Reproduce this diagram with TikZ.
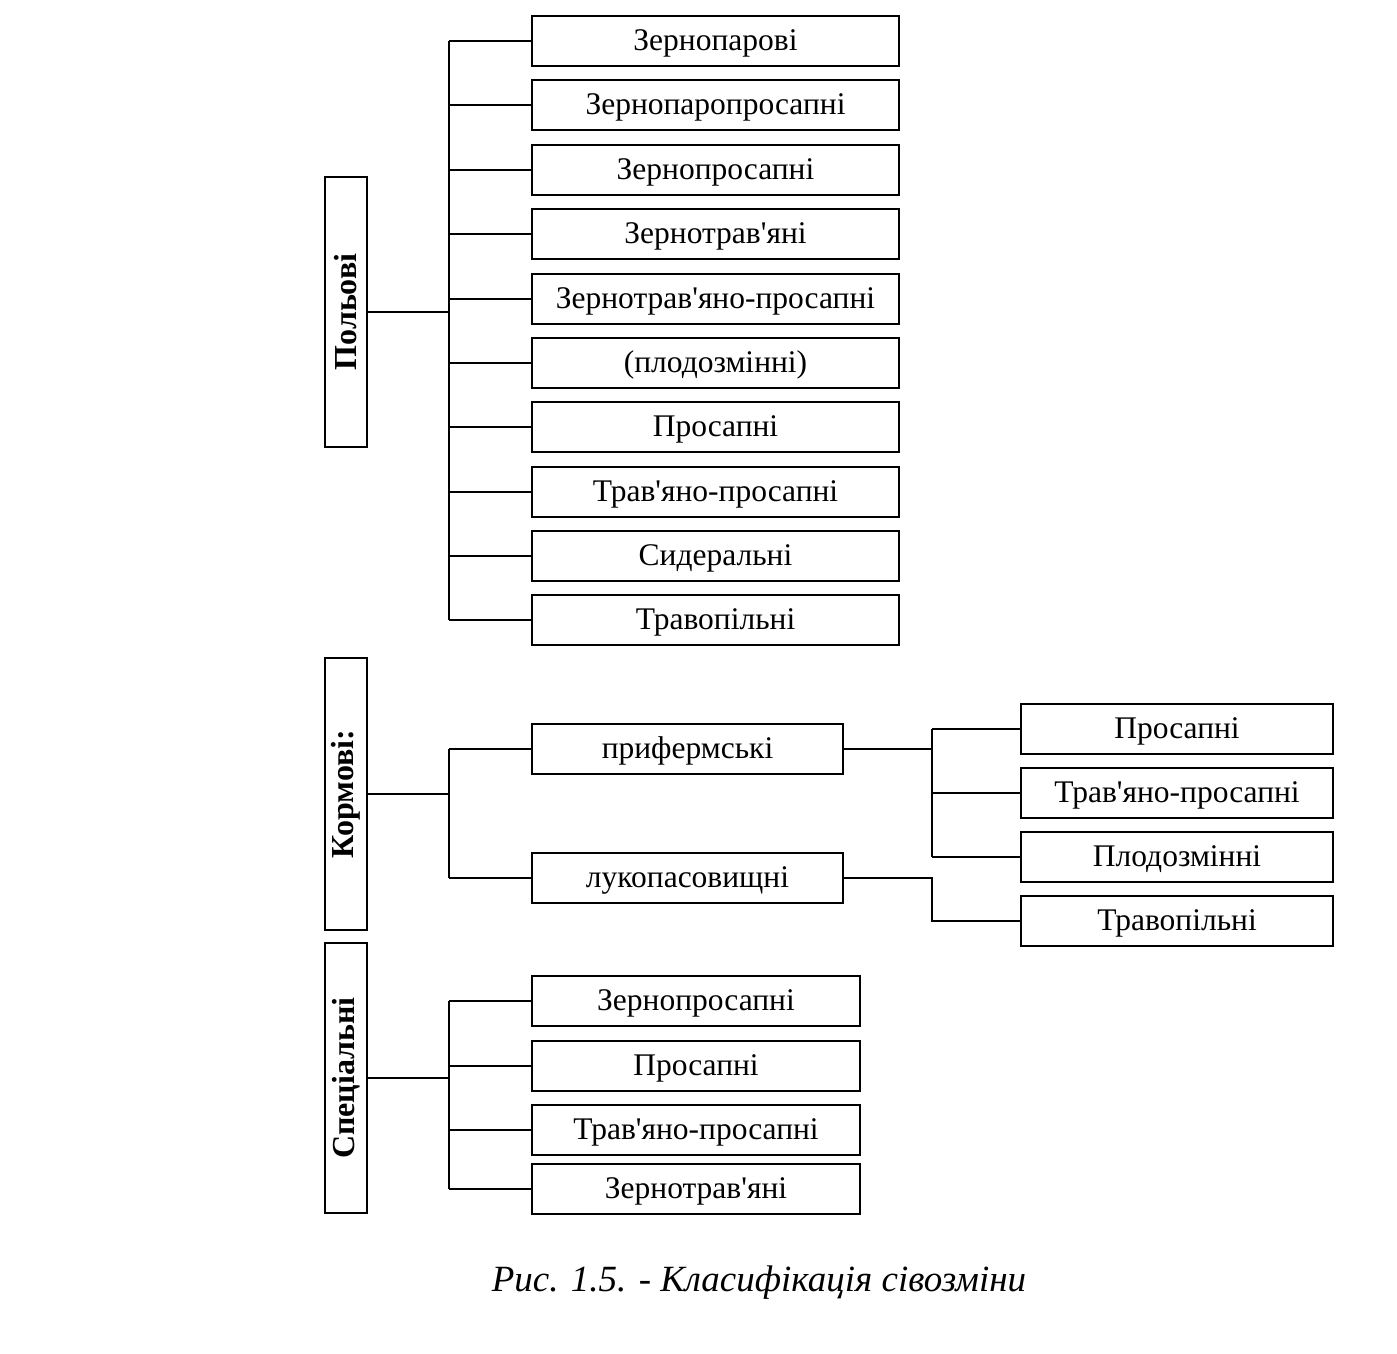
\documentclass[tikz,border=0pt]{standalone}
\usepackage{fontspec}
\setmainfont{Liberation Serif}[Ligatures=TeXOff]
\begin{document}
\begin{tikzpicture}[x=1pt,y=-1pt,
  box/.style={draw, line width=2.6pt, minimum height=50pt, inner sep=0pt, text height=22pt, text depth=3pt, font=\fontsize{31.5}{34}\selectfont},
  vbox/.style={draw, line width=2.6pt, rotate=90, minimum height=42pt, minimum width=270pt, inner sep=0pt, font=\fontsize{32}{34}\selectfont\bfseries},
  conn/.style={line width=2pt}]
\useasboundingbox (0,0) rectangle (1397,1354);
% trunk x positions
\coordinate (tp) at (449,0);
\coordinate (jk) at (932,0);
% Польові
\node[vbox] (pol) at (346,312) {Польові};
\foreach \i/\y/\t in {1/41/Зернопарові,2/105/Зернопаропросапні,3/170/Зернопросапні,4/234/Зернотрав'яні,5/299/Зернотрав'яно-просапні,6/363/(плодозмінні),7/427/Просапні,8/492/Трав'яно-просапні,9/556/Сидеральні,10/620/Травопільні}
  \node[box, minimum width=367pt] (b\i) at (715.5,\y) {\t};
\draw[conn] (b1.west -| tp) -- (b10.west -| tp);
\foreach \i in {1,...,10} \draw[conn] (b\i.west -| tp) -- (b\i.west);
\draw[conn] (pol) -- (pol -| tp);
% Кормові
\node[vbox, minimum width=272pt] (kor) at (346,794) {Кормові:};
\node[box, minimum width=311pt] (pf) at (687.5,749) {прифермські};
\node[box, minimum width=311pt] (lk) at (687.5,878) {лукопасовищні};
\draw[conn] (kor) -- (kor -| tp);
\draw[conn] (pf.west -| tp) -- (lk.west -| tp);
\draw[conn] (pf.west -| tp) -- (pf.west);
\draw[conn] (lk.west -| tp) -- (lk.west);
\foreach \i/\y/\t in {1/729/Просапні,2/793/Трав'яно-просапні,3/857/Плодозмінні,4/921/Травопільні}
  \node[box, minimum width=312pt] (r\i) at (1177,\y) {\t};
\draw[conn] (pf.east) -- (pf.east -| jk);
\draw[conn] (r1.west -| jk) -- (r3.west -| jk);
\foreach \i in {1,2,3} \draw[conn] (r\i.west -| jk) -- (r\i.west);
\draw[conn] (lk.east) -- (lk.east -| jk) |- (r4.west);
% Спеціальні
\node[vbox] (sp) at (346,1078) {Спеціальні};
\foreach \i/\y/\t in {1/1001/Зернопросапні,2/1066/Просапні,3/1130/Трав'яно-просапні,4/1189/Зернотрав'яні}
  \node[box, minimum width=328pt] (s\i) at (696,\y) {\t};
\draw[conn] (sp) -- (sp -| tp);
\draw[conn] (s1.west -| tp) -- (s4.west -| tp);
\foreach \i in {1,...,4} \draw[conn] (s\i.west -| tp) -- (s\i.west);
% caption
\node[font=\fontsize{37}{40}\selectfont\itshape] (cap) at (759,1283) {Рис. 1.5. - Класифікація сівозміни};
\end{tikzpicture}
\end{document}
